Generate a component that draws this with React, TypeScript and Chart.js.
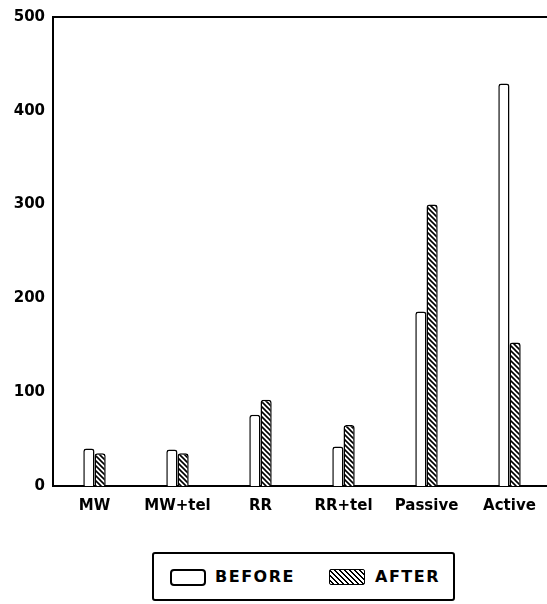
import { useEffect, useRef } from "react";
import { Chart, registerables } from "chart.js";

Chart.register(...registerables);

const categories = ["MW", "MW+tel", "RR", "RR+tel", "Passive", "Active"];
const beforeValues = [40, 39, 76, 42, 186, 429];
const afterValues = [35, 35, 92, 65, 300, 153];
const yTickValues = [0, 100, 200, 300, 400, 500];

function makeHatch(): CanvasPattern | string {
  const c = document.createElement("canvas");
  c.width = 5;
  c.height = 5;
  const ctx = c.getContext("2d");
  if (!ctx) return "#fff";
  ctx.fillStyle = "#fff";
  ctx.fillRect(0, 0, 5, 5);
  ctx.strokeStyle = "#000";
  ctx.lineWidth = 1.6;
  ctx.beginPath();
  ctx.moveTo(-1, -1);
  ctx.lineTo(6, 6);
  ctx.moveTo(-1, 4);
  ctx.lineTo(1, 6);
  ctx.moveTo(4, -1);
  ctx.lineTo(6, 1);
  ctx.stroke();
  return ctx.createPattern(c, "repeat") || "#fff";
}

const topLine = {
  id: "topLine",
  afterDraw(chart: any) {
    const { ctx, chartArea } = chart;
    ctx.save();
    ctx.strokeStyle = "#000";
    ctx.lineWidth = 2;
    ctx.beginPath();
    ctx.moveTo(chartArea.left - 1, chartArea.top);
    ctx.lineTo(chart.width, chartArea.top);
    ctx.stroke();
    ctx.restore();
  },
};

export default function App() {
  const ref = useRef<HTMLCanvasElement>(null);

  useEffect(() => {
    if (!ref.current) return;
    const hatch = makeHatch();
    const font = { family: "'DejaVu Sans', sans-serif", size: 15, weight: "bold" as const };
    const chart = new Chart(ref.current, {
      type: "bar",
      data: {
        labels: categories,
        datasets: [
          {
            label: "BEFORE",
            data: beforeValues,
            backgroundColor: "#fff",
            borderColor: "#000",
            borderWidth: 1.5,
            borderSkipped: "bottom",
            borderRadius: { topLeft: 3, topRight: 3, bottomLeft: 0, bottomRight: 0 },
          },
          {
            label: "AFTER",
            data: afterValues,
            backgroundColor: hatch as any,
            borderColor: "#000",
            borderWidth: 1.5,
            borderSkipped: "bottom",
            borderRadius: { topLeft: 3, topRight: 3, bottomLeft: 0, bottomRight: 0 },
          },
        ],
      },
      options: {
        animation: false,
        responsive: false,
        maintainAspectRatio: false,
        layout: { padding: { top: 15, right: 0, left: 0, bottom: 0 } },
        plugins: { legend: { display: false }, tooltip: { enabled: false } },
        datasets: { bar: { categoryPercentage: 0.27, barPercentage: 1.0 } },
        scales: {
          x: {
            grid: { display: false, drawTicks: false },
            border: { display: true, color: "#000", width: 2 },
            ticks: { color: "#000", font, padding: 11 },
            afterFit(scale: any) {
              scale.height = 530 - 486;
            },
          },
          y: {
            min: 0,
            max: 500,
            grid: { display: false, drawTicks: false },
            border: { display: true, color: "#000", width: 2 },
            afterBuildTicks(scale: any) {
              scale.ticks = yTickValues.map((v) => ({ value: v }));
            },
            ticks: { color: "#000", font, padding: 8 },
            afterFit(scale: any) {
              scale.width = 53;
            },
          },
        },
      },
      plugins: [topLine],
    });
    return () => chart.destroy();
  }, []);

  const textStyle: React.CSSProperties = {
    fontFamily: "'DejaVu Sans', sans-serif",
    fontWeight: "bold",
    fontSize: 16,
    letterSpacing: 1.5,
    color: "#000",
    position: "absolute",
    top: 13,
    lineHeight: "20px",
  };

  return (
    <div style={{ position: "absolute", left: 0, top: 0, width: 547, height: 604, overflow: "hidden", background: "#fff" }}>
      <canvas ref={ref} width={551} height={530} style={{ position: "absolute", left: 0, top: 0, width: 551, height: 530 }} />
      <div
        style={{
          position: "absolute",
          left: 152,
          top: 552,
          width: 299,
          height: 45,
          border: "2px solid #000",
          borderRadius: 3,
        }}
      >
        <div
          style={{
            position: "absolute",
            left: 16,
            top: 15,
            width: 32,
            height: 13,
            border: "2px solid #000",
            borderRadius: 4,
            background: "#fff",
          }}
        />
        <span style={{ ...textStyle, left: 61 }}>BEFORE</span>
        <div
          style={{
            position: "absolute",
            left: 175,
            top: 15,
            width: 34,
            height: 14,
            border: "1.5px solid #000",
            borderRadius: 2,
            background: "repeating-linear-gradient(45deg, #fff 0px, #fff 2px, #000 2px, #000 3.5px)",
          }}
        />
        <span style={{ ...textStyle, left: 221 }}>AFTER</span>
      </div>
    </div>
  );
}
